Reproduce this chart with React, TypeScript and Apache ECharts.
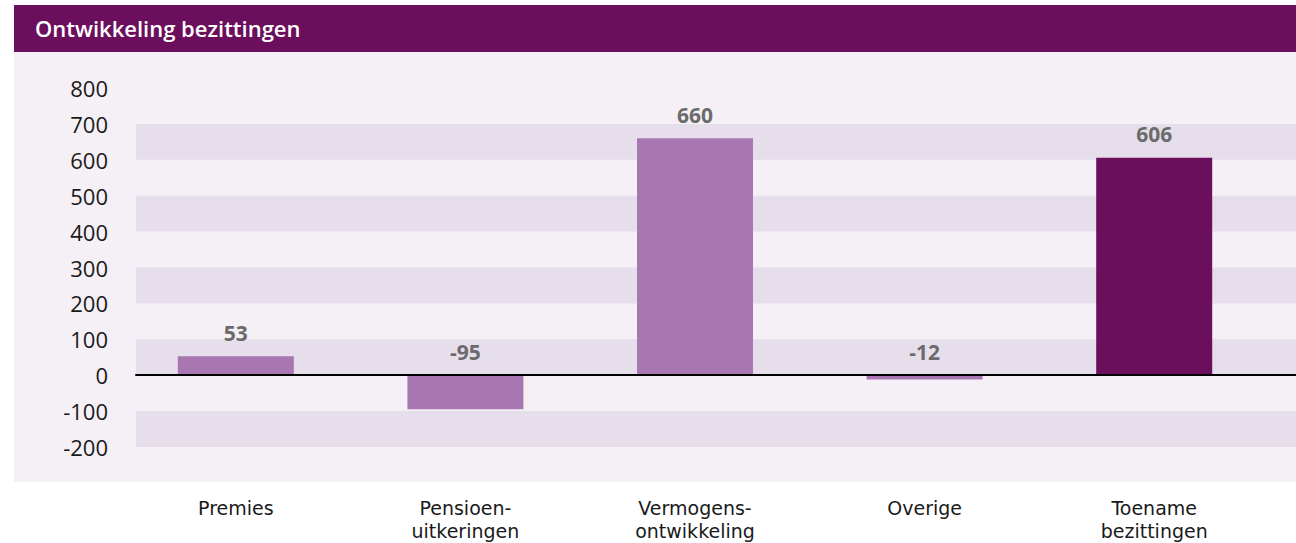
import React, { useEffect, useRef } from "react";
import * as echarts from "echarts";

const categories = ["Premies", "Pensioen-\nuitkeringen", "Vermogens-\nontwikkeling", "Overige", "Toename\nbezittingen"];
const values = [53, -95, 660, -12, 606];
const barColors = ["#a877b2", "#a877b2", "#a877b2", "#a877b2", "#6b0f5c"];
const yMin = -200;
const yMax = 800;
const yStep = 100;
const title = "Ontwikkeling bezittingen";

const FONT = "'Open Sans', 'Noto Sans', sans-serif";
const XFONT = "'DejaVu Sans', sans-serif";

export default function App() {
  const ref = useRef<HTMLDivElement>(null);
  useEffect(() => {
    if (!ref.current) return;
    const chart = echarts.init(ref.current, undefined, { renderer: "svg" });
    chart.setOption({
      animation: false,
      backgroundColor: "#ffffff",
      graphic: [
        { type: "rect", z: -100, shape: { x: 14, y: 52, width: 1282, height: 430 }, style: { fill: "#f5f0f6" } },
        { type: "rect", z: -100, shape: { x: 14, y: 5, width: 1282, height: 47 }, style: { fill: "#6b0f5c" } },
        {
          type: "text",
          z: 10,
          x: 35,
          y: 28,
          style: { text: title, fill: "#ffffff", fontSize: 22, fontWeight: 600, fontFamily: FONT, verticalAlign: "middle", align: "left" },
        },
      ],
      grid: [
        { left: 136, right: 0, top: 88, bottom: 96 },
        { left: 121, right: 27, top: 88, bottom: 96 },
      ],
      xAxis: [
        {
          type: "category",
          gridIndex: 0,
          data: [""],
          axisLine: { show: true, onZero: true, lineStyle: { color: "#000000", width: 2 } },
          axisTick: { show: false },
          axisLabel: { show: false },
          splitLine: { show: false },
          z: 5,
        },
        {
          type: "category",
          gridIndex: 1,
          data: categories,
          axisLine: { show: false },
          axisTick: { show: false },
          axisLabel: { margin: 50, color: "#1a1a1a", fontSize: 19, fontFamily: XFONT, lineHeight: 22.5, interval: 0 },
        },
      ],
      yAxis: [
        {
          type: "value",
          gridIndex: 0,
          min: yMin,
          max: yMax,
          interval: yStep,
          axisLine: { show: false },
          axisTick: { show: false },
          splitLine: { show: false },
          splitArea: { show: true, areaStyle: { color: ["#e6deeb", "rgba(0,0,0,0)"] } },
          axisLabel: { margin: 28, color: "#1a1a1a", fontSize: 22, fontFamily: FONT },
        },
        {
          type: "value",
          gridIndex: 1,
          min: yMin,
          max: yMax,
          interval: yStep,
          show: false,
          splitLine: { show: false },
        },
      ],
      series: [
        {
          type: "bar",
          xAxisIndex: 1,
          yAxisIndex: 1,
          barWidth: 116,
          z: 3,
          data: values.map((v, i) => ({ value: v, itemStyle: { color: barColors[i] } })),
          label: {
            show: true,
            position: "top",
            distance: 13,
            color: "#6b6b6b",
            fontWeight: "bold",
            fontSize: 21,
            fontFamily: FONT,
          },
        },
      ],
    });
    return () => chart.dispose();
  }, []);
  return <div ref={ref} style={{ position: "absolute", left: 0, top: 0, width: 1296, height: 543 }} />;
}
